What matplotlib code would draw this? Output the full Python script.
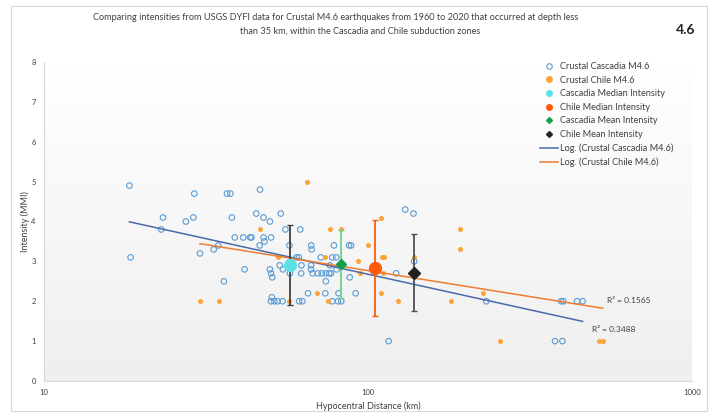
import matplotlib

matplotlib.use("Agg")
import matplotlib.pyplot as plt
import numpy as np
from matplotlib.lines import Line2D
from matplotlib.patches import Rectangle

plt.rcParams["font.family"] = ["Lato", "DejaVu Sans"]

# Crustal Cascadia M4.6 events: hypocentral distance (km), DYFI intensity (MMI)
cascadia_dist = [18.35, 18.5, 23.0, 23.3, 27.4, 28.9, 29.1, 30.3, 33.4, 34.5,
                 35.9, 36.7, 37.6, 38.0, 38.8, 41.2, 41.6, 43.3, 43.7, 45.2,
                 46.3, 46.4, 47.6, 47.6, 47.9, 49.8, 49.8, 50.2, 50.2, 50.6,
                 50.5, 50.2, 51.4, 52.6, 54.5, 53.4, 53.8, 54.6, 55.6, 57.2,
                 57.4, 60.2, 61.2, 61.8, 62.3, 62.2, 61.3, 62.7, 65.3, 66.8,
                 67.0, 66.7, 66.7, 67.5, 70.0, 72.0, 74.1, 75.9, 76.9, 71.5,
                 74.1, 73.8, 78.5, 77.6, 79.8, 76.3, 80.0, 77.6, 80.8, 82.7,
                 81.1, 87.4, 88.7, 87.8, 91.6, 115.8, 122.2, 130.3, 138.2, 138.8,
                 231.7, 394.5, 401.0, 441.9, 459.6, 377.8, 398.1]
cascadia_mmi = [4.9, 3.1, 3.8, 4.1, 4.0, 4.1, 4.7, 3.2, 3.3, 3.4,
                2.5, 4.7, 4.7, 4.1, 3.6, 3.6, 2.8, 3.6, 3.6, 4.2,
                3.4, 4.8, 4.1, 3.6, 3.5, 4.0, 2.8, 3.6, 2.7, 2.6,
                2.1, 2.0, 2.0, 2.0, 2.0, 2.9, 4.2, 2.8, 3.8, 3.4,
                2.7, 3.1, 3.1, 3.8, 2.9, 2.7, 2.0, 2.0, 2.2, 3.4,
                3.3, 2.9, 2.8, 2.7, 2.7, 2.7, 2.7, 2.7, 2.7, 3.1,
                2.5, 2.2, 3.4, 3.1, 3.1, 2.9, 2.8, 2.0, 2.0, 2.0,
                2.2, 3.4, 3.4, 2.6, 2.2, 1.0, 2.7, 4.3, 4.2, 3.0,
                2.0, 2.0, 2.0, 2.0, 2.0, 1.0, 1.0]

# Crustal Chile M4.6 events
chile_dist = [30.3, 34.6, 46.5, 52.9, 57.2, 65.0, 69.7, 73.8, 75.0, 76.5,
              82.8, 93.2, 94.6, 99.9, 109.6, 110.1, 112.2, 111.1, 109.3, 123.4,
              138.2, 180.0, 191.8, 191.8, 226.3, 255.3, 515.0, 530.0]
chile_mmi = [2.0, 2.0, 3.8, 3.1, 2.0, 5.0, 2.2, 3.1, 2.0, 3.8,
             3.8, 3.0, 2.7, 3.4, 4.1, 3.1, 3.1, 2.7, 2.2, 2.0,
             3.1, 2.0, 3.8, 3.3, 2.2, 1.0, 1.0, 1.0]

# summary points: (distance, intensity, +/- error)
cascadia_median = (57.4, 2.9, 1.0)
chile_median = (104.9, 2.83, 1.21)
cascadia_mean = (82.8, 2.94, 0.85)
chile_mean = (138.5, 2.72, 0.97)

r2_labels = {"cascadia": "R² = 0.3488", "chile": "R² = 0.1565"}

TITLE_1 = ("Comparing intensities from USGS DYFI data for Crustal M4.6 earthquakes "
           "from 1960 to 2020 that occurred at depth less")
TITLE_2 = "than 35 km, within the Cascadia and Chile subduction zones"

C_CAS = "#5B9BD5"
C_CHILE = "#FAA43A"
C_CAS_MED = "#5CE1E6"
C_CHILE_MED = "#FF5A0A"
C_CAS_MEAN = "#14A048"
C_CHILE_MEAN = "#222222"
C_CAS_LINE = "#4A6AA8"
C_CHILE_LINE = "#ED7D31"

W, H = 715, 418
fig = plt.figure(figsize=(W / 100, H / 100), dpi=100)

# chart border
fig.patches.append(Rectangle((11 / W, 1 - 411 / H), 696 / W, 405 / H,
                             transform=fig.transFigure, fill=False,
                             edgecolor="#D9D9D9", lw=0.8))

pos = [44 / W, 1 - 381 / H, 648 / W, 319 / H]

# gradient plot-area background
bg = fig.add_axes(pos, zorder=0)
grad = np.linspace(1, 0, 256).reshape(-1, 1)
bg.imshow(grad, aspect="auto", cmap=matplotlib.colors.LinearSegmentedColormap.from_list(
    "bg", ["#EFEFEF", "#FFFFFF"]), extent=[0, 1, 0, 1])
bg.axis("off")

ax = fig.add_axes(pos, zorder=1)
ax.patch.set_alpha(0)
ax.set_xscale("log")
ax.set_xlim(10, 1000)
ax.set_ylim(0, 8)

ax.scatter(cascadia_dist, cascadia_mmi, s=16, facecolors="none",
           edgecolors=C_CAS, linewidths=0.8, zorder=3)
ax.scatter(chile_dist, chile_mmi, s=13, color=C_CHILE, linewidths=0, zorder=3)


def log_fit(xs, ys):
    xs = np.asarray(xs, float)
    a, b = np.polyfit(np.log(xs), ys, 1)
    xx = np.geomspace(xs.min(), xs.max(), 100)
    return xx, a * np.log(xx) + b


xx, yy = log_fit(cascadia_dist, cascadia_mmi)
ax.plot(xx, yy, color=C_CAS_LINE, lw=1.1, zorder=4)
xx, yy = log_fit(chile_dist, chile_mmi)
ax.plot(xx, yy, color=C_CHILE_LINE, lw=1.1, zorder=4)

for (x, y, e), ecol in [(cascadia_median, "#404040"), (chile_median, C_CHILE_MED),
                        (cascadia_mean, "#6DD38C"), (chile_mean, "#505050")]:
    ax.errorbar([x], [y], yerr=[e], fmt="none", ecolor=ecol, elinewidth=1.3,
                capsize=2, capthick=1, zorder=5)

ax.plot(*cascadia_median[:2], "o", color=C_CAS_MED, ms=8.5, zorder=6)
ax.plot(*chile_median[:2], "o", color=C_CHILE_MED, ms=8.5, zorder=6)
ax.plot(*cascadia_mean[:2], "D", color=C_CAS_MEAN, ms=5.5, zorder=6)
ax.plot(*chile_mean[:2], "D", color=C_CHILE_MEAN, ms=6.5, zorder=6)

ax.text(0.869, 0.251, r2_labels["chile"], transform=ax.transAxes, fontsize=6,
        color="#404040", va="center")
ax.text(0.846, 0.163, r2_labels["cascadia"], transform=ax.transAxes, fontsize=6,
        color="#404040", va="center")

for s in ["top", "right"]:
    ax.spines[s].set_visible(False)
for s in ["left", "bottom"]:
    ax.spines[s].set_color("#D9D9D9")
    ax.spines[s].set_linewidth(0.8)
ax.set_yticks(range(0, 9))
ax.set_xticks([10, 100, 1000])
ax.set_xticklabels(["10", "100", "1000"])
ax.minorticks_off()
ax.tick_params(length=0, labelsize=5.5, colors="#404040")
ax.tick_params(axis="y", pad=6)
ax.tick_params(axis="x", pad=6)
ax.set_xlabel("Hypocentral Distance (km)", fontsize=6.5, color="#404040", labelpad=4)
ax.set_ylabel("Intensity (MMI)", fontsize=6.5, color="#404040", labelpad=1)

handles = [
    Line2D([], [], ls="none", marker="o", mfc="none", mec=C_CAS, ms=4, mew=0.8),
    Line2D([], [], ls="none", marker="o", color=C_CHILE, ms=4),
    Line2D([], [], ls="none", marker="o", color=C_CAS_MED, ms=4),
    Line2D([], [], ls="none", marker="o", color=C_CHILE_MED, ms=4),
    Line2D([], [], ls="none", marker="D", color=C_CAS_MEAN, ms=3),
    Line2D([], [], ls="none", marker="D", color=C_CHILE_MEAN, ms=3),
    Line2D([], [], color=C_CAS_LINE, lw=1.1),
    Line2D([], [], color=C_CHILE_LINE, lw=1.1),
]
labels = ["Crustal Cascadia M4.6", "Crustal Chile M4.6", "Cascadia Median Intensity",
          "Chile Median Intensity", "Cascadia Mean Intensity", "Chile Mean Intensity",
          "Log. (Crustal Cascadia M4.6)", "Log. (Crustal Chile M4.6)"]
leg = ax.legend(handles, labels, loc="upper left", bbox_to_anchor=(0.765, 1.0),
                frameon=False, fontsize=6.6, handlelength=2.0, handletextpad=0.25,
                labelspacing=0.5, borderpad=0, borderaxespad=0)
for t in leg.get_texts():
    t.set_color("#404040")

fig.text(336 / W, 1 - 17 / H, TITLE_1, ha="center", va="center", fontsize=6.6,
         color="#404040")
fig.text(360 / W, 1 - 31 / H, TITLE_2, ha="center", va="center", fontsize=6.6,
         color="#404040")
fig.text(686 / W, 1 - 30 / H, "4.6", ha="center", va="center", fontsize=10,
         fontweight="bold", color="#222222")

fig.savefig("out.png", dpi=100)
